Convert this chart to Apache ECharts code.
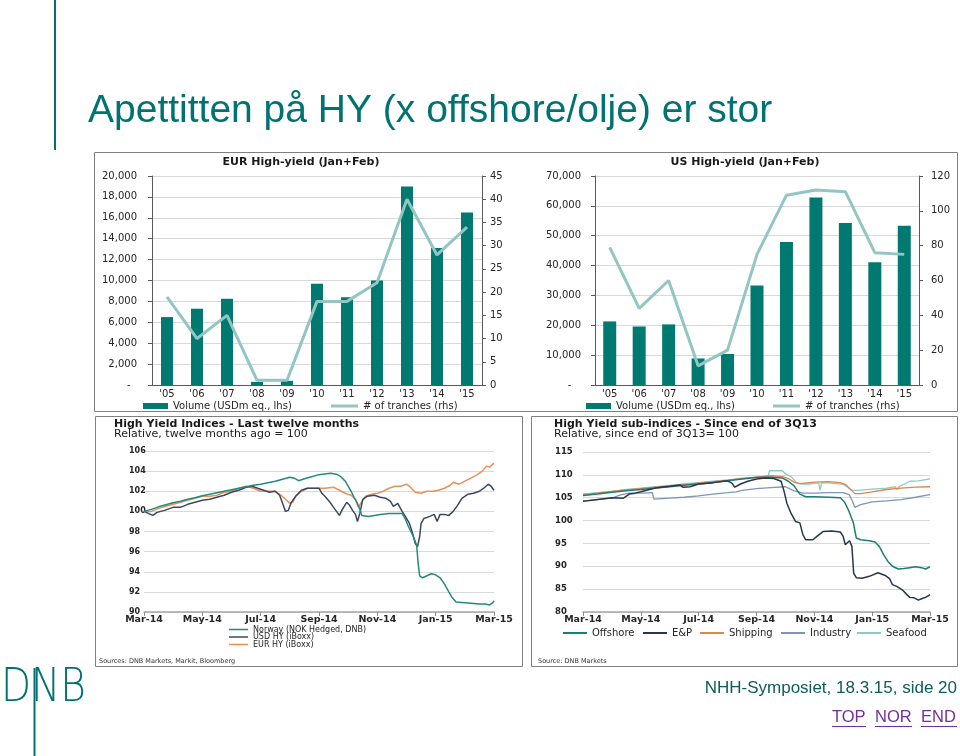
<!DOCTYPE html>
<html><head><meta charset="utf-8">
<script src="https://cdn.jsdelivr.net/npm/echarts@6/dist/echarts.min.js"></script>
<style>html,body{margin:0;padding:0;background:#fff}#c{width:960px;height:756px}</style>
</head><body><div id="c"></div>
<script>
// ---------- DATA ----------
const yearCats = ["'05","'06","'07","'08","'09","'10","'11","'12","'13","'14","'15"];
const eurVolume = [6500,7300,8250,300,400,9700,8400,10000,19000,13100,16500];
const eurTranches = [19,10,15,1,1,18,18,22,40,28,34];
const usVolume = [21300,19600,20300,8900,10400,33300,47900,62800,54300,41100,53300];
const usTranches = [79,44,60,11,20,75,109,112,111,76,75];
const monthLabels = ['Mar-14','May-14','Jul-14','Sep-14','Nov-14','Jan-15','Mar-15'];
// [months since Mar-14, index]
const norway = [[0,100],[0.25,100.2],[0.5,100.45],[0.75,100.65],[1,100.85],[1.25,101.0],[1.5,101.2],[1.75,101.35],[2,101.55],[2.25,101.7],[2.5,101.85],[2.75,102.0],[3,102.15],[3.25,102.3],[3.5,102.45],[3.75,102.6],[4,102.7],[4.25,102.85],[4.5,103.0],[4.75,103.2],[5,103.4],[5.15,103.3],[5.3,103.05],[5.5,103.25],[5.75,103.45],[6,103.65],[6.25,103.75],[6.4,103.8],[6.6,103.7],[6.75,103.45],[6.9,103.0],[7.0,102.5],[7.1,102.0],[7.2,101.4],[7.3,100.9],[7.4,100.2],[7.47,99.6],[7.7,99.5],[7.9,99.6],[8.1,99.7],[8.4,99.8],[8.6,99.8],[8.85,99.8],[8.95,99.3],[9.05,98.6],[9.15,98.0],[9.25,97.4],[9.35,96.6],[9.4,94.8],[9.45,93.6],[9.55,93.4],[9.7,93.6],[9.85,93.8],[10.0,93.7],[10.15,93.4],[10.3,92.8],[10.45,92.0],[10.55,91.5],[10.7,91.0],[10.9,90.95],[11.1,90.9],[11.3,90.85],[11.5,90.8],[11.7,90.8],[11.85,90.7],[11.95,90.9],[12,91.1]];
const usdHy = [[0,100],[0.15,99.8],[0.3,99.6],[0.45,99.9],[0.7,100.1],[1,100.4],[1.25,100.4],[1.5,100.7],[1.75,100.9],[2,101.1],[2.25,101.2],[2.5,101.4],[2.75,101.6],[3,101.9],[3.25,102.1],[3.5,102.4],[3.7,102.5],[3.9,102.3],[4.1,102.1],[4.3,101.9],[4.5,102.0],[4.65,101.6],[4.75,100.8],[4.85,100.0],[4.95,100.1],[5.05,100.9],[5.2,101.5],[5.4,102.1],[5.6,102.3],[5.8,102.3],[6.0,102.3],[6.1,101.8],[6.2,101.5],[6.35,101.0],[6.5,100.4],[6.6,100.0],[6.7,99.6],[6.8,100.2],[6.95,100.9],[7.05,100.6],[7.15,100.1],[7.25,99.7],[7.32,99.0],[7.4,99.8],[7.5,101.2],[7.65,101.5],[7.9,101.6],[8.1,101.4],[8.3,101.3],[8.45,101.0],[8.55,100.5],[8.7,100.8],[8.85,100.0],[9.0,99.3],[9.1,98.8],[9.2,97.9],[9.3,96.8],[9.38,96.5],[9.45,97.5],[9.5,98.8],[9.6,99.3],[9.8,99.5],[9.95,99.7],[10.05,99.0],[10.15,99.7],[10.3,99.7],[10.45,99.6],[10.6,100.0],[10.75,100.6],[10.9,101.3],[11.1,101.7],[11.3,101.8],[11.5,102.0],[11.65,102.3],[11.8,102.7],[11.9,102.5],[12,102.1]];
const eurHy = [[0,100],[0.25,100.0],[0.5,100.3],[0.75,100.5],[1,100.7],[1.25,100.9],[1.5,101.1],[1.75,101.3],[2,101.5],[2.25,101.5],[2.5,101.6],[2.75,101.9],[3,102.0],[3.25,102.3],[3.5,102.5],[3.75,102.3],[4,102.0],[4.25,102.0],[4.5,102.0],[4.7,101.6],[4.85,101.2],[5.0,100.8],[5.1,100.9],[5.2,101.5],[5.4,102.0],[5.6,102.3],[5.9,102.3],[6.2,102.3],[6.5,102.4],[6.7,102.1],[6.9,101.8],[7.1,101.6],[7.25,101.2],[7.35,100.4],[7.45,100.9],[7.6,101.5],[7.8,101.7],[8.0,101.8],[8.2,102.0],[8.4,102.3],[8.6,102.5],[8.8,102.5],[9.0,102.7],[9.1,102.5],[9.3,101.9],[9.5,101.8],[9.7,102.0],[9.9,102.0],[10.1,102.1],[10.3,102.3],[10.5,102.6],[10.6,102.9],[10.8,102.7],[11.0,103.0],[11.2,103.3],[11.4,103.6],[11.6,104.0],[11.75,104.5],[11.85,104.4],[12,104.8]];
const offshore = [[0,105.5],[0.5,105.8],[1,106.2],[1.5,106.5],[2,106.8],[2.5,107.1],[3,107.4],[3.5,107.7],[4,108.0],[4.5,108.3],[5,108.7],[5.5,109.1],[6,109.4],[6.5,109.5],[6.9,109.3],[7.1,108.6],[7.3,107.6],[7.5,105.8],[7.7,105.2],[8,105.2],[8.5,105.1],[8.9,105.0],[9.05,104.0],[9.2,102.0],[9.35,99.5],[9.45,96.2],[9.6,95.8],[9.9,95.6],[10.1,95.3],[10.25,94.3],[10.4,92.5],[10.55,91.0],[10.7,90.0],[10.9,89.4],[11.1,89.5],[11.3,89.7],[11.5,89.9],[11.7,89.7],[11.85,89.4],[12,89.9]];
const eandp = [[0,104.2],[0.5,104.6],[1,105.0],[1.4,104.9],[1.6,105.8],[1.8,106.0],[2.0,106.3],[2.3,106.8],[2.5,107.1],[3,107.5],[3.35,107.8],[3.45,107.3],[3.7,107.4],[4,108.0],[4.5,108.3],[5,108.7],[5.15,108.2],[5.25,107.3],[5.45,108.0],[5.7,108.6],[6,109.1],[6.3,109.3],[6.6,109.2],[6.85,108.6],[6.95,106.5],[7.05,103.8],[7.2,101.5],[7.35,99.8],[7.5,99.5],[7.6,97.0],[7.7,95.8],[7.95,95.8],[8.1,96.6],[8.3,97.6],[8.6,97.7],[8.9,97.5],[9.0,96.5],[9.07,94.7],[9.15,95.2],[9.22,95.6],[9.3,94.3],[9.36,88.5],[9.45,87.5],[9.65,87.4],[9.9,87.8],[10.2,88.6],[10.45,88.0],[10.6,87.3],[10.7,86.0],[10.85,85.6],[11.05,84.8],[11.2,83.8],[11.3,83.2],[11.45,83.1],[11.6,82.6],[11.75,83.0],[11.85,83.2],[12,83.8]];
const shipping = [[0,105.7],[0.5,106.0],[1,106.4],[1.5,106.7],[2,107.0],[2.5,107.3],[3,107.6],[3.5,107.9],[4,108.2],[4.5,108.5],[5,108.8],[5.5,109.2],[6,109.5],[6.5,109.8],[6.9,109.6],[7.1,109.2],[7.3,108.4],[7.5,108.1],[8,108.4],[8.5,108.5],[8.9,108.3],[9.1,107.8],[9.3,106.5],[9.4,105.9],[9.6,105.9],[10,106.3],[10.5,106.8],[11,107.1],[11.5,107.3],[12,107.4]];
const industry = [[0,104.3],[0.5,104.6],[1,104.9],[1.3,105.6],[1.6,106.0],[2,106.0],[2.4,106.1],[2.45,104.7],[3,104.9],[3.5,105.1],[4,105.4],[4.5,105.8],[5,106.1],[5.3,106.3],[5.35,106.0],[5.5,106.6],[6,107.0],[6.5,107.2],[7,107.4],[7.3,106.5],[7.6,106.0],[8,106.0],[8.5,106.1],[9,106.1],[9.2,105.7],[9.3,104.5],[9.4,102.9],[9.6,103.5],[10,104.1],[10.5,104.3],[11,104.6],[11.5,105.1],[12,105.7]];
const seafood = [[0,105.8],[0.5,106.1],[1,106.4],[1.5,106.8],[2,107.1],[2.5,107.4],[3,107.7],[3.5,108.0],[4,108.3],[4.5,108.6],[5,108.9],[5.5,109.2],[6,109.5],[6.4,109.7],[6.45,110.9],[6.9,110.9],[7.0,110.2],[7.2,109.6],[7.4,108.2],[7.6,108.0],[7.85,108.0],[7.9,107.7],[8.0,108.2],[8.15,108.2],[8.2,106.6],[8.25,108.3],[8.6,108.2],[9,107.9],[9.15,107.3],[9.3,106.6],[9.5,106.6],[10,106.9],[10.5,107.1],[10.8,107.4],[10.85,106.8],[10.95,107.5],[11.15,108.1],[11.3,108.6],[11.6,108.7],[12,109.1]];

// ---------- STYLE ----------
const FONT = "'DejaVu Sans', sans-serif";
const TXT = '#262626';
const TEAL = '#007a70';
const LTEAL = '#93c6c2';
const GRID = '#d9d9d9';
const AX = '#595959';
function thou(v){ return String(v).replace(/\B(?=(\d{3})+(?!\d))/g, ','); }

const chart = echarts.init(document.getElementById('c'), null, {renderer:'canvas'});

function catX(g){ return {type:'category', gridIndex:g, data:yearCats, axisLine:{lineStyle:{color:AX}}, axisTick:{show:false},
  axisLabel:{fontFamily:FONT, fontSize:10, color:TXT, margin:4, interval:0}}; }
function leftY(g, max, interval, margin, dash){ return {type:'value', gridIndex:g, min:0, max:max, interval:interval, position:'left',
  axisLine:{show:true, lineStyle:{color:AX}}, axisTick:{show:true, length:4, lineStyle:{color:AX}},
  axisLabel:{fontFamily:FONT, fontSize:10, color:TXT, margin:margin, formatter:v=> v===0 ? dash : thou(v)},
  splitLine:{show:true, lineStyle:{color:GRID}}}; }
function rightY(g, max, interval, margin){ return {type:'value', gridIndex:g, min:0, max:max, interval:interval, position:'right',
  axisLine:{show:true, lineStyle:{color:AX}}, axisTick:{show:true, length:4, lineStyle:{color:AX}},
  axisLabel:{fontFamily:FONT, fontSize:10, color:TXT, margin:margin, align:'left'}, splitLine:{show:false}}; }
function timeX(g){ return {type:'value', gridIndex:g, min:0, max:12, interval:2,
  axisLine:{show:true, lineStyle:{color:'#a6a6a6', width:1.5}}, axisTick:{show:true, length:4, lineStyle:{color:'#8c8c8c'}},
  axisLabel:{fontFamily:FONT, fontSize:9.5, fontWeight:'bold', color:TXT, margin:3, formatter:v=>monthLabels[Math.round(v/2)]},
  splitLine:{show:false}}; }
function idxY(g, min, max, interval, margin, fs){ return {type:'value', gridIndex:g, min:min, max:max, interval:interval,
  axisLine:{show:false}, axisTick:{show:false},
  axisLabel:{fontFamily:FONT, fontSize:fs, fontWeight:'bold', color:TXT, margin:margin, align:'left'},
  splitLine:{show:true, lineStyle:{color:GRID}}}; }
function lineS(name, x, y, data, color, w){ return {type:'line', name:name, xAxisIndex:x, yAxisIndex:y, data:data, symbol:'none',
  lineStyle:{color:color, width:w}, itemStyle:{color:color}}; }
function leg(name, left, top, w, h, fs, lh){ const ts = {fontFamily:FONT, fontSize:fs, color:TXT}; if(lh) ts.lineHeight = lh;
  return {data:[name], left:left, top:top, itemWidth:w, itemHeight:h, icon:'rect', selectedMode:false, padding:0, textStyle:ts}; }

const option = {
  animation:false,
  backgroundColor:'#ffffff',
  grid:[
    {left:152, top:176, width:330, height:209},
    {left:595, top:176, width:324, height:209},
    {left:144, top:451, width:350, height:161},
    {left:583, top:452, width:347, height:160}
  ],
  xAxis:[catX(0), catX(1), timeX(2), timeX(3)],
  yAxis:[
    leftY(0, 20000, 2000, 15, '-  '),
    rightY(0, 45, 5, 8),
    leftY(1, 70000, 10000, 14, '-   '),
    rightY(1, 120, 20, 12),
    idxY(2, 90, 106, 2, 15, 8),
    idxY(3, 80, 115, 5, 28, 8.5)
  ],
  legend:[
    leg('Volume (USDm eq., lhs)', 143, 401, 25, 6, 10),
    leg('# of tranches (rhs)', 331, 401, 27, 3, 10),
    leg('Volume (USDm eq., lhs)', 586, 401, 25, 6, 10),
    leg('# of tranches (rhs)', 773, 401, 27, 3, 10),
    leg('Norway (NOK Hedged, DNB)', 229, 625.5, 19, 1.5, 8, 8),
    leg('USD HY (iBoxx)', 229, 633, 19, 1.5, 8, 8),
    leg('EUR HY (iBoxx)', 229, 640.5, 19, 1.5, 8, 8),
    leg('Offshore', 563, 628, 24, 2, 10),
    leg('E&P', 643, 628, 24, 2, 10),
    leg('Shipping', 700, 628, 24, 2, 10),
    leg('Industry', 781, 628, 24, 2, 10),
    leg('Seafood', 857, 628, 24, 2, 10)
  ],
  series:[
    {type:'bar', name:'Volume (USDm eq., lhs)', xAxisIndex:0, yAxisIndex:0, data:eurVolume, barWidth:12, itemStyle:{color:TEAL}},
    lineS('# of tranches (rhs)', 0, 1, eurTranches, LTEAL, 3),
    {type:'bar', name:'Volume (USDm eq., lhs)', xAxisIndex:1, yAxisIndex:2, data:usVolume, barWidth:13, itemStyle:{color:TEAL}},
    lineS('# of tranches (rhs)', 1, 3, usTranches, LTEAL, 3),
    lineS('EUR HY (iBoxx)', 2, 4, eurHy, '#e8925a', 1.5),
    lineS('USD HY (iBoxx)', 2, 4, usdHy, '#3a4860', 1.5),
    lineS('Norway (NOK Hedged, DNB)', 2, 4, norway, '#238a80', 1.5),
    lineS('Industry', 3, 5, industry, '#7e96b4', 1.3),
    lineS('Seafood', 3, 5, seafood, '#8ccbc5', 1.3),
    lineS('Shipping', 3, 5, shipping, '#e0844a', 1.3),
    lineS('Offshore', 3, 5, offshore, '#1f7d76', 1.5),
    lineS('E&P', 3, 5, eandp, '#2a3550', 1.5)
  ],
  graphic:[
    {type:'line', shape:{x1:55, y1:0, x2:55, y2:150}, style:{stroke:'#007272', lineWidth:2}, silent:true},
    {type:'text', x:88, y:111, style:{text:'Apettitten på HY (x offshore/olje) er stor', font:"39px 'Liberation Sans', Arial, sans-serif", fill:'#007272', verticalAlign:'middle', align:'left'}},
    {type:'rect', shape:{x:94.5, y:152.5, width:863, height:259}, style:{fill:'none', stroke:'#7f7f7f', lineWidth:1}, silent:true},
    {type:'rect', shape:{x:95.5, y:416.5, width:427, height:250}, style:{fill:'none', stroke:'#7f7f7f', lineWidth:1}, silent:true},
    {type:'rect', shape:{x:531.5, y:416.5, width:426, height:250}, style:{fill:'none', stroke:'#7f7f7f', lineWidth:1}, silent:true},
    {type:'text', x:301, y:162, style:{text:'EUR High-yield (Jan+Feb)', font:"bold 11px 'DejaVu Sans'", fill:'#1a1a1a', align:'center', verticalAlign:'middle'}},
    {type:'text', x:745, y:162, style:{text:'US High-yield (Jan+Feb)', font:"bold 11px 'DejaVu Sans'", fill:'#1a1a1a', align:'center', verticalAlign:'middle'}},
    {type:'text', x:114, y:424, style:{text:'High Yield Indices - Last twelve months', font:"bold 11px 'DejaVu Sans'", fill:'#1a1a1a', align:'left', verticalAlign:'middle'}},
    {type:'text', x:114, y:434.5, style:{text:'Relative, twelve months ago = 100', font:"11px 'DejaVu Sans'", fill:'#1a1a1a', align:'left', verticalAlign:'middle'}},
    {type:'text', x:554, y:424, style:{text:'High Yield sub-indices - Since end of 3Q13', font:"bold 11px 'DejaVu Sans'", fill:'#1a1a1a', align:'left', verticalAlign:'middle'}},
    {type:'text', x:554, y:434.5, style:{text:'Relative, since end of 3Q13= 100', font:"11px 'DejaVu Sans'", fill:'#1a1a1a', align:'left', verticalAlign:'middle'}},
    {type:'text', x:99, y:661.5, style:{text:'Sources: DNB Markets, Markit, Bloomberg', font:"6.5px 'DejaVu Sans'", fill:'#333', align:'left', verticalAlign:'middle'}},
    {type:'text', x:538, y:661.5, style:{text:'Source: DNB Markets', font:"6.5px 'DejaVu Sans'", fill:'#333', align:'left', verticalAlign:'middle'}},
    {type:'text', x:1, y:689, scaleX:0.85, style:{x:0, y:0, text:'DNB', font:"200 46px 'DejaVu Sans'", fill:'#007272', align:'left', verticalAlign:'middle'}},
    {type:'line', shape:{x1:34.5, y1:668, x2:34.5, y2:756}, style:{stroke:'#007272', lineWidth:2}, silent:true},
    {type:'text', x:957, y:688, style:{text:'NHH-Symposiet, 18.3.15, side 20', font:"17px 'Liberation Sans', Arial, sans-serif", fill:'#0d5c5a', align:'right', verticalAlign:'middle'}},
    {type:'text', x:832, y:717, style:{text:'TOP', font:"16.5px 'Liberation Sans', Arial, sans-serif", fill:'#7030a0', align:'left', verticalAlign:'middle'}},
    {type:'text', x:875, y:717, style:{text:'NOR', font:"16.5px 'Liberation Sans', Arial, sans-serif", fill:'#7030a0', align:'left', verticalAlign:'middle'}},
    {type:'text', x:921, y:717, style:{text:'END', font:"16.5px 'Liberation Sans', Arial, sans-serif", fill:'#7030a0', align:'left', verticalAlign:'middle'}},
    {type:'line', shape:{x1:832, y1:726.5, x2:866, y2:726.5}, style:{stroke:'#7030a0', lineWidth:1}, silent:true},
    {type:'line', shape:{x1:875, y1:726.5, x2:912, y2:726.5}, style:{stroke:'#7030a0', lineWidth:1}, silent:true},
    {type:'line', shape:{x1:921, y1:726.5, x2:957, y2:726.5}, style:{stroke:'#7030a0', lineWidth:1}, silent:true}
  ]
};
chart.setOption(option);
</script>
</body></html>
